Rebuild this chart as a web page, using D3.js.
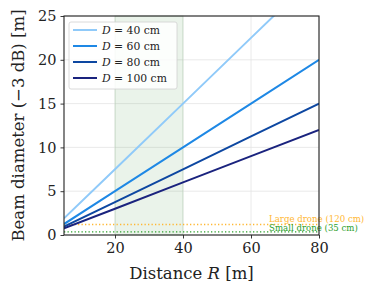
<!DOCTYPE html>
<html>
<head>
<meta charset="utf-8">
<title>Beam diameter</title>
<script src="https://d3js.org/d3.v7.min.js"></script>
<style>
  body { margin: 0; background: #fff; }
  text { font-family: "DejaVu Serif", serif; fill: #222; }
</style>
</head>
<body>
<script>
// distances (m) and beam diameters (m) for each aperture D
const distances = [5, 20, 40, 60, 80];
const d40 = [1.9, 7.5, 15, 22.5, 30];
const d60 = [1.25, 5, 10, 15, 20];
const d80 = [0.95, 3.75, 7.5, 11.25, 15];
const d100 = [0.75, 3, 6, 9, 12];
const seriesNames = ["40", "60", "80", "100"];
const seriesColors = ["#90caf9", "#1e88e5", "#0d47a1", "#1a237e"];
const xTicks = [20, 40, 60, 80];
const yTicks = [0, 5, 10, 15, 20, 25];
const band = [20, 40];
const drones = [
  {label: "Large drone (120 cm)", size: 1.2, color: "#ffb733"},
  {label: "Small drone (35 cm)", size: 0.35, color: "#2ca02c"}
];

const w = 381, h = 295;
const m = {left: 64, right: 62, top: 16, bottom: 60};

const svg = d3.select("body").append("svg")
  .attr("width", w).attr("height", h);

const x = d3.scaleLinear().domain([5, 80]).range([m.left, w - m.right]);
const y = d3.scaleLinear().domain([0, 25]).range([h - m.bottom, m.top]);

svg.append("defs").append("clipPath").attr("id", "clip")
  .append("rect")
  .attr("x", x(5)).attr("y", y(25))
  .attr("width", x(80) - x(5)).attr("height", y(0) - y(25));

// grid
svg.append("g").selectAll("line").data(xTicks).join("line")
  .attr("x1", d => x(d)).attr("x2", d => x(d))
  .attr("y1", y(0)).attr("y2", y(25))
  .attr("stroke", "#e4e4e4").attr("stroke-width", 0.8);
svg.append("g").selectAll("line").data(yTicks).join("line")
  .attr("x1", x(5)).attr("x2", x(80))
  .attr("y1", d => y(d)).attr("y2", d => y(d))
  .attr("stroke", "#e4e4e4").attr("stroke-width", 0.8);

// shaded range
svg.append("rect")
  .attr("x", x(band[0])).attr("y", y(25))
  .attr("width", x(band[1]) - x(band[0])).attr("height", y(0) - y(25))
  .attr("fill", "#2e8b2e").attr("fill-opacity", 0.1)
  .attr("stroke", "#2e8b2e").attr("stroke-opacity", 0.15).attr("stroke-width", 0.8);

// drone lines
drones.forEach(dr => {
  svg.append("line")
    .attr("x1", x(5)).attr("x2", x(80))
    .attr("y1", y(dr.size)).attr("y2", y(dr.size))
    .attr("stroke", dr.color).attr("stroke-width", 1.3)
    .attr("stroke-dasharray", "1.3,2.2");
});

// beam lines
const allSeries = [d40, d60, d80, d100];
const line = d3.line().x((d, i) => x(distances[i])).y(d => y(d));
svg.append("g").attr("clip-path", "url(#clip)")
  .selectAll("path").data(allSeries).join("path")
  .attr("d", d => line(d))
  .attr("fill", "none")
  .attr("stroke", (d, i) => seriesColors[i])
  .attr("stroke-width", 2);

// drone labels
svg.append("text").attr("x", x(80) - 50).attr("y", y(drones[0].size) - 2)
  .attr("font-size", 8.6).style("fill", drones[0].color).text(drones[0].label);
svg.append("text").attr("x", x(80) - 50).attr("y", y(drones[1].size) - 0.5)
  .attr("font-size", 8.6).style("fill", drones[1].color).text(drones[1].label);

// axes
const xAxis = svg.append("g")
  .attr("transform", `translate(0,${y(0)})`)
  .call(d3.axisBottom(x).tickValues(xTicks).tickSize(3.5).tickPadding(4));
const yAxis = svg.append("g")
  .attr("transform", `translate(${x(5)},0)`)
  .call(d3.axisLeft(y).tickValues(yTicks).tickSize(3.5).tickPadding(4));
[xAxis, yAxis].forEach(g => {
  g.select(".domain").remove();
  g.selectAll("line").attr("stroke", "#222").attr("stroke-width", 0.9);
  g.selectAll("text").attr("font-size", 14.5).style("font-family", "DejaVu Serif").attr("fill", "#222");
});

// frame
svg.append("rect")
  .attr("x", x(5)).attr("y", y(25))
  .attr("width", x(80) - x(5)).attr("height", y(0) - y(25))
  .attr("fill", "none").attr("stroke", "#222").attr("stroke-width", 1.1);

// axis labels
const xl = svg.append("text").attr("x", (x(5) + x(80)) / 2).attr("y", 279)
  .attr("text-anchor", "middle").attr("font-size", 16.5);
xl.append("tspan").text("Distance ");
xl.append("tspan").attr("font-style", "italic").text("R");
xl.append("tspan").text(" [m]");

svg.append("text")
  .attr("transform", `translate(24,${(y(0) + y(25)) / 2}) rotate(-90)`)
  .attr("text-anchor", "middle").attr("font-size", 16.5)
  .text("Beam diameter (\u22123 dB) [m]");

// legend
const lg = svg.append("g").attr("transform", "translate(69,22)");
lg.append("rect").attr("width", 108).attr("height", 67).attr("rx", 2)
  .attr("fill", "#fff").attr("fill-opacity", 0.85)
  .attr("stroke", "#d0d0d0").attr("stroke-width", 0.8);
seriesNames.forEach((s, i) => {
  const row = lg.append("g").attr("transform", `translate(0,${8 + i * 16})`);
  row.append("line").attr("x1", 4).attr("x2", 28).attr("y1", 0).attr("y2", 0)
    .attr("stroke", seriesColors[i]).attr("stroke-width", 2);
  const t = row.append("text").attr("x", 33).attr("y", 3.8).attr("font-size", 10.8);
  t.append("tspan").attr("font-style", "italic").text("D");
  t.append("tspan").text(` = ${s} cm`);
});
</script>
</body>
</html>
